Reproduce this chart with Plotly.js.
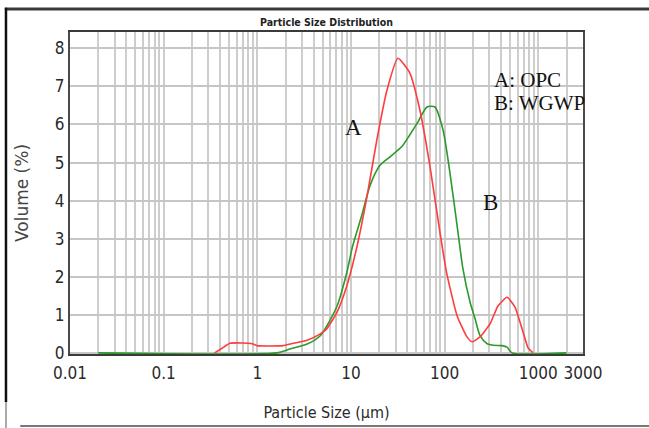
<!DOCTYPE html>
<html>
<head>
<meta charset="utf-8">
<script src="https://cdn.plot.ly/plotly-3.0.1.min.js"></script>
<style>
html,body{margin:0;padding:0;background:#fff;}
#chart{width:649px;height:428px;}
#chart .xtick text, #chart .ytick text, #chart .xtitle, #chart .gtitle {font-stretch: condensed;}
</style>
</head>
<body>
<div id="chart"></div>
<script>
// Particle size (µm) and volume (%)
const sizeOPC = [0.35, 0.42, 0.51, 0.68, 0.88, 0.99, 1.88, 2.3, 3.4, 4.7, 5.5, 7.1, 9.0, 11.6, 14.8, 18.9, 24.2, 31.7, 42.5, 54.4, 69.7, 89.2, 105, 136, 173, 196, 239, 305, 371, 463, 564, 637, 722, 777, 857, 880];
const volOPC  = [0.0, 0.12, 0.25, 0.26, 0.24, 0.19, 0.19, 0.24, 0.33, 0.5, 0.63, 1.07, 1.75, 2.8, 4.1, 5.6, 6.9, 7.74, 7.35, 6.38, 4.9, 3.16, 2.1, 0.97, 0.42, 0.29, 0.42, 0.76, 1.23, 1.46, 1.2, 0.81, 0.37, 0.13, 0.03, 0.0];

const sizeWGWP = [0.02, 1.62, 2.22, 3.4, 4.7, 5.5, 7.1, 9.0, 10.4, 13.0, 16.0, 20.3, 26.1, 34.9, 42.5, 51.9, 64.8, 78.7, 96, 114, 136, 157, 187, 211, 239, 284, 329, 410, 463, 524, 2000];
const volWGWP  = [0.0, 0.0, 0.1, 0.23, 0.45, 0.7, 1.23, 2.1, 2.8, 3.6, 4.4, 4.92, 5.15, 5.42, 5.73, 6.07, 6.46, 6.46, 5.86, 4.72, 3.33, 2.2, 1.33, 0.9, 0.45, 0.24, 0.2, 0.19, 0.15, 0.0, 0.0];

const xTickVals = [0.01, 0.1, 1, 10, 100, 1000, 3000];
const xTickText = ['0.01', '0.1', '1', '10', '100', '1000', '3000'];
const yTickVals = [0, 1, 2, 3, 4, 5, 6, 7, 8];
const seriesNames = ['A: OPC', 'B: WGWP'];

// minor grid positions (2..9 in each decade)
const minorVals = [];
[0.01, 0.1, 1, 10, 100, 1000].forEach(d => {
  for (let k = 2; k <= 9; k++) { if (k * d < 3000) minorVals.push(k * d); }
});

const condFam = 'DejaVu Sans Condensed, Liberation Sans Narrow, Arial Narrow, Liberation Sans, sans-serif';
const tickFont = {family: condFam, size: 17, color: '#2a2a2a'};
const gridCol = '#cdcdcd';

const traces = [
  {x: sizeWGWP, y: volWGWP, name: seriesNames[1], mode: 'lines',
   line: {color: '#2a9a2a', width: 1.6, shape: 'spline', smoothing: 0.7}},
  {x: sizeOPC, y: volOPC, name: seriesNames[0], mode: 'lines',
   line: {color: '#ff3b3b', width: 1.6, shape: 'spline', smoothing: 0.5}}
];

const white = {color: '#ffffff', width: 2};
const layout = {
  width: 649, height: 428,
  margin: {l: 70, r: 66, t: 32, b: 74},
  paper_bgcolor: '#ffffff', plot_bgcolor: '#ffffff',
  showlegend: false,
  title: {text: '<b>Particle Size Distribution</b>', x: 0.5, xref: 'paper', xanchor: 'center',
          y: 0.949, yref: 'container', yanchor: 'middle',
          font: {family: condFam, size: 10.5, color: '#222'}},
  xaxis: {
    type: 'log', range: [-2, Math.log10(3000)],
    tickmode: 'array', tickvals: xTickVals, ticktext: xTickText,
    ticks: '', tickfont: tickFont, ticklabelstandoff: 3,
    showgrid: true, gridcolor: gridCol, gridwidth: 2,
    minor: {tickmode: 'array', tickvals: minorVals, showgrid: true, gridcolor: gridCol, gridwidth: 2, ticks: ''},
    showline: true, linecolor: '#3a3a3a', linewidth: 2, mirror: true,
    zeroline: false, layer: 'below traces',
    title: {text: 'Particle Size (µm)', standoff: 24,
            font: {family: condFam, size: 16, color: '#2a2a2a'}}
  },
  yaxis: {
    range: [-0.03, 8.43], tickmode: 'array', tickvals: yTickVals,
    ticks: '', tickfont: tickFont,
    showgrid: true, gridcolor: '#c6c6c6', gridwidth: 2,
    showline: true, linecolor: '#4a4a4a', linewidth: 2, mirror: true,
    zeroline: false,
    title: {text: 'Volume (%)', standoff: 22,
            font: {family: 'DejaVu Sans, sans-serif', size: 17, color: '#444'}}
  },
  annotations: [
    {text: seriesNames[0], xref: 'paper', yref: 'paper', x: 0.8226, y: 0.851, xanchor: 'left', yanchor: 'middle',
     showarrow: false, font: {family: 'Liberation Serif, Times New Roman, serif', size: 21, color: '#111'}},
    {text: seriesNames[1], xref: 'paper', yref: 'paper', x: 0.8226, y: 0.7795, xanchor: 'left', yanchor: 'middle',
     showarrow: false, font: {family: 'Liberation Serif, Times New Roman, serif', size: 21, color: '#111'}},
    {text: 'A', xref: 'paper', yref: 'paper', x: 0.5517, y: 0.702, xanchor: 'center', yanchor: 'middle',
     showarrow: false, font: {family: 'Liberation Serif, Times New Roman, serif', size: 23, color: '#111'}},
    {text: 'B', xref: 'paper', yref: 'paper', x: 0.8197, y: 0.472, xanchor: 'center', yanchor: 'middle',
     showarrow: false, font: {family: 'Liberation Serif, Times New Roman, serif', size: 23, color: '#111'}}
  ],
  shapes: [
    // white label boxes (pasted text boxes in the original)
    {type: 'rect', xref: 'paper', yref: 'y', x0: 0.786, x1: 0.997, y0: 5, y1: 7.83, line: white, layer: 'between'},
    {type: 'line', xref: 'paper', yref: 'y', x0: 0.786, x1: 0.997, y0: 7, y1: 7, line: {color: '#fff', width: 3}, layer: 'between'},
    {type: 'line', xref: 'paper', yref: 'y', x0: 0.786, x1: 0.997, y0: 6, y1: 6, line: {color: '#fff', width: 3}, layer: 'between'},
    {type: 'rect', xref: 'paper', yref: 'y', x0: 0.491, x1: 0.589, y0: 5.34, y1: 6.65, line: white, layer: 'between'},
    {type: 'line', xref: 'paper', yref: 'y', x0: 0.491, x1: 0.589, y0: 6, y1: 6, line: {color: '#fff', width: 3}, layer: 'between'},
    {type: 'rect', xref: 'paper', yref: 'y', x0: 0.764, x1: 0.867, y0: 3.40, y1: 4.74, line: white, layer: 'between'},
    // outer frame of the screenshot
    {type: 'line', xref: 'paper', yref: 'paper', x0: -0.127, x1: 1.13, y0: 1.0714, y1: 1.0714, line: {color: '#3a3a3a', width: 3}},
    {type: 'line', xref: 'paper', yref: 'paper', x0: -0.1248, x1: -0.1248, y0: 1.075, y1: -0.149, line: {color: '#111', width: 2.5}},
    {type: 'line', xref: 'paper', yref: 'paper', x0: -0.1248, x1: -0.1248, y0: -0.149, y1: -0.23, line: {color: '#aaa', width: 2}},
    {type: 'line', xref: 'paper', yref: 'paper', x0: -0.097, x1: 1.13, y0: -0.2236, y1: -0.2236, line: {color: '#777', width: 2}}
  ]
};

Plotly.newPlot('chart', traces, layout, {staticPlot: true, displayModeBar: false});
</script>
</body>
</html>
